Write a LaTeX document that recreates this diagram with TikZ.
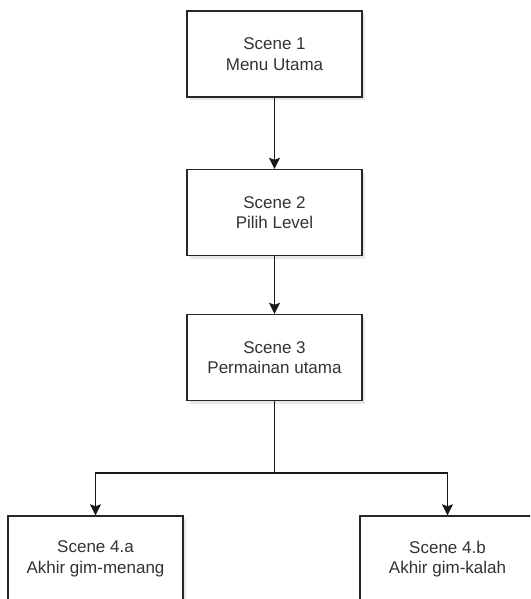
\documentclass[tikz,border=0pt]{standalone}
\usepackage{fontspec}
\setmainfont{Liberation Sans}
\usetikzlibrary{arrows.meta,shadows}
\begin{document}
\begin{tikzpicture}[x=1pt,y=-1pt,
  box/.style={draw=black!85, line width=1.4pt, fill=white,
    minimum width=175pt, minimum height=86pt, align=center,
    font=\fontsize{17}{20.5}\selectfont, text=black!80,
    drop shadow={shadow xshift=2.5pt, shadow yshift=-3pt, opacity=0.18}},
  conn/.style={draw=black!90, line width=1.4pt,
    -{Stealth[length=11pt,width=11pt,inset=2pt]}},
  plain/.style={draw=black!90, line width=1.4pt}]
\useasboundingbox (0,0) rectangle (530,599);
\clip (0,0) rectangle (530,599);
\fill[white] (0,0) rectangle (530,599);
\node[box] (s1) at (274.5,54) {Scene 1\\Menu Utama};
\node[box] (s2) at (274.5,212.5) {Scene 2\\Pilih Level};
\node[box] (s3) at (274.5,357.5) {Scene 3\\Permainan utama};
\node[box] (s4a) at (95.5,559) {Scene 4.a\\Akhir gim-menang};
\node[box] (s4b) at (447.5,559) {Scene 4.b\\Akhir gim-kalah};
\coordinate (j) at (274.5,473);
\draw[conn] (s1) -- (s2);
\draw[conn] (s2) -- (s3);
\draw[plain] (s3.south) -- (j);
\draw[conn] (j) -| (s4a);
\draw[conn] (j) -| (s4b);
\end{tikzpicture}
\end{document}
